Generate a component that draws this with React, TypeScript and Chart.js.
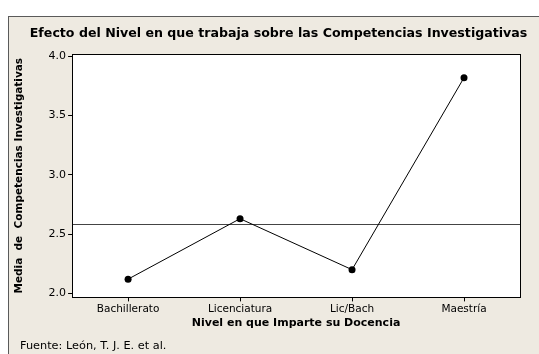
import React, { useEffect, useRef } from "react";
import { Chart, registerables } from "chart.js";

Chart.register(...registerables);

const categories = ["Bachillerato", "Licenciatura", "Lic/Bach", "Maestría"];
const means = [2.12, 2.63, 2.2, 3.82];
const grandMean = [2.585];
const yTicks = [2.0, 2.5, 3.0, 3.5, 4.0];
const chartTitle = "Efecto del Nivel en que trabaja sobre las Competencias Investigativas";
const xTitle = "Nivel en que Imparte su Docencia";
const yTitle = "Media  de  Competencias Investigativas";
const source = "Fuente: León, T. J. E. et al.";

const FONT = "'DejaVu Sans', Verdana, sans-serif";

const titlePlugin = {
  id: "titlePlugin",
  afterDraw(chart: any) {
    const { ctx, width } = chart;
    ctx.save();
    ctx.fillStyle = "#000000";
    ctx.font = `bold 12.6px ${FONT}`;
    ctx.textAlign = "center";
    ctx.textBaseline = "middle";
    ctx.fillText(chartTitle, width / 2, 16.5);
    ctx.restore();
  },
};

const framePlugin = {
  id: "framePlugin",
  beforeDatasetsDraw(chart: any) {
    const { ctx, chartArea, scales } = chart;
    ctx.save();
    const y = Math.round(scales.y.getPixelForValue(grandMean[0])) + 0.5;
    ctx.strokeStyle = "#444444";
    ctx.lineWidth = 1;
    ctx.beginPath();
    ctx.moveTo(chartArea.left, y);
    ctx.lineTo(chartArea.right, y);
    ctx.stroke();
    ctx.restore();
  },
  afterDraw(chart: any) {
    const { ctx, chartArea } = chart;
    ctx.save();
    ctx.strokeStyle = "#000000";
    ctx.lineWidth = 1;
    ctx.strokeRect(
      Math.round(chartArea.left) + 0.5,
      Math.round(chartArea.top) + 0.5,
      Math.round(chartArea.right - chartArea.left),
      Math.round(chartArea.bottom - chartArea.top)
    );
    ctx.restore();
  },
};

const bgPlugin = {
  id: "bgPlugin",
  beforeDraw(chart: any) {
    const { ctx, chartArea } = chart;
    ctx.save();
    ctx.fillStyle = "#ffffff";
    ctx.fillRect(chartArea.left, chartArea.top, chartArea.right - chartArea.left, chartArea.bottom - chartArea.top);
    ctx.restore();
  },
};

export default function App() {
  const ref = useRef<HTMLCanvasElement | null>(null);

  useEffect(() => {
    document.body.style.overflow = "hidden";
    const canvas = ref.current;
    if (!canvas) return;
    const chart = new Chart(canvas, {
      type: "line",
      data: {
        labels: categories,
        datasets: [
          {
            data: means,
            borderColor: "#000000",
            backgroundColor: "#000000",
            borderWidth: 1,
            pointRadius: 3.5,
            pointBorderWidth: 0,
            pointBackgroundColor: "#000000",
            tension: 0,
          },
        ],
      },
      options: {
        animation: false,
        responsive: false,
        devicePixelRatio: 1,
        layout: { padding: { left: 2, right: 28, top: 37, bottom: 25 } },
        plugins: {
          legend: { display: false },
          tooltip: { enabled: false },
          title: { display: false },
        },
        scales: {
          x: {
            type: "category",
            offset: true,
            border: { display: false },
            grid: {
              display: true,
              drawOnChartArea: false,
              drawTicks: true,
              tickLength: 4,
              color: "#000000",
              offset: false,
            },
            ticks: {
              color: "#000000",
              font: { family: FONT, size: 10.5 },
              padding: 2,
              maxRotation: 0,
            },
            title: {
              display: true,
              text: xTitle,
              color: "#000000",
              font: { family: FONT, size: 11, weight: "bold", lineHeight: 1.0 },
              padding: { top: 0, bottom: 0 },
            },
          },
          y: {
            type: "linear",
            min: 1.966,
            max: 4.02,
            border: { display: false },
            afterBuildTicks(scale: any) {
              scale.ticks = yTicks.map((v) => ({ value: v }));
            },
            grid: {
              display: true,
              drawOnChartArea: false,
              drawTicks: true,
              tickLength: 4,
              color: "#000000",
            },
            ticks: {
              color: "#000000",
              font: { family: FONT, size: 11 },
              padding: 2,
              callback: (v: any) => Number(v).toFixed(1),
            },
            title: {
              display: true,
              text: yTitle,
              color: "#000000",
              font: { family: FONT, size: 10.5, weight: "bold" },
              padding: { top: 2, bottom: 21 },
            },
          },
        },
      },
      plugins: [bgPlugin, framePlugin, titlePlugin],
    });
    return () => chart.destroy();
  }, []);

  return (
    <div
      style={{
        position: "absolute",
        left: 8,
        top: 16,
        width: 531,
        height: 338,
        boxSizing: "border-box",
        borderLeft: "1px solid #5a5a5a",
        borderTop: "1px solid #5a5a5a",
        background: "#EEEAE1",
        overflow: "hidden",
      }}
    >
      <canvas ref={ref} width={539} height={337} style={{ position: "absolute", left: 0, top: 0 }} />
      <div
        style={{
          position: "absolute",
          left: 11,
          top: 322,
          fontFamily: FONT,
          fontSize: 11.3,
          color: "#000000",
          whiteSpace: "nowrap",
        }}
      >
        {source}
      </div>
    </div>
  );
}
